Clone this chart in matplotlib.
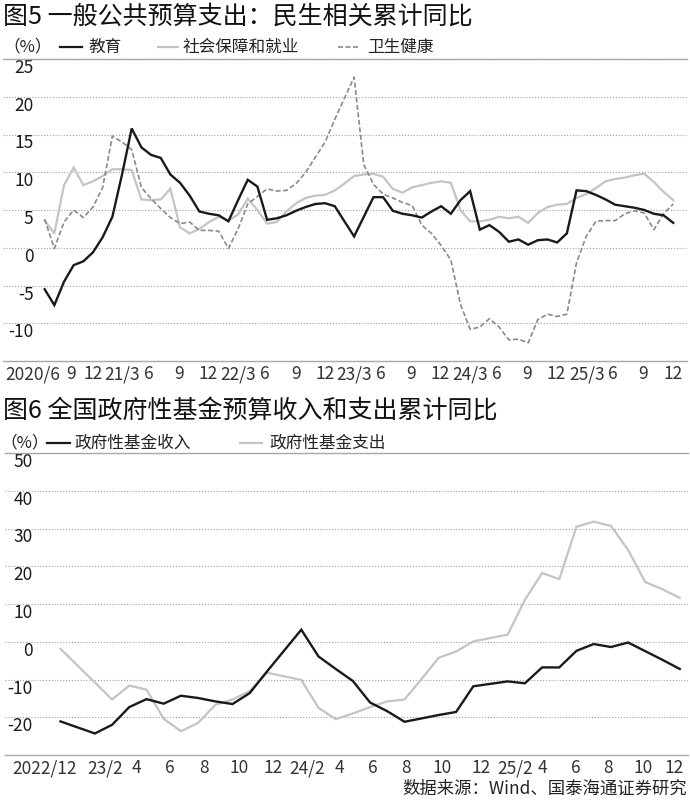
import matplotlib
matplotlib.use("Agg")
import matplotlib.pyplot as plt
import matplotlib.transforms as mtransforms
from matplotlib.lines import Line2D
import pandas as pd

plt.rcParams['font.family'] = ['Noto Sans CJK SC', 'DejaVu Sans']

# ---- 图5 数据：2020/7 - 2025/12 累计同比(%) ----
top_months = pd.period_range('2020-07', '2025-12', freq='M')
edu = [-5.5, -7.6, -4.5, -2.3, -1.8, -0.6, 1.4, 4.1, 9.7, 15.8, 13.3, 12.3,
       11.9, 9.7, 8.6, 6.9, 4.8, 4.5, 4.3, 3.5, 6.3, 9.0, 8.1, 3.7,
       3.9, 4.3, 4.9, 5.4, 5.8, 5.9, 5.5, 3.5, 1.5, 4.1, 6.7, 6.7,
       4.9, 4.5, 4.3, 4.0, 4.8, 5.5, 4.5, 6.3, 7.5, 2.4, 3.0, 2.1,
       0.8, 1.1, 0.4, 1.0, 1.1, 0.7, 1.9, 7.6, 7.5, 7.0, 6.4, 5.7,
       5.5, 5.3, 5.0, 4.5, 4.3, 3.3]
social = [3.6, 1.9, 8.3, 10.6, 8.3, 8.8, 9.5, 10.4, 10.4, 10.3, 6.4, 6.3,
          6.4, 7.8, 2.7, 1.9, 2.5, 3.4, 4.1, 3.6, 4.4, 6.5, 5.0, 3.2,
          3.4, 4.8, 5.9, 6.6, 6.9, 7.0, 7.6, 8.5, 9.5, 9.7, 9.8, 9.4,
          7.8, 7.3, 8.0, 8.3, 8.6, 8.8, 8.6, 5.0, 3.5, 3.5, 3.7, 4.1,
          3.9, 4.1, 3.3, 4.6, 5.4, 5.7, 5.8, 6.6, 7.1, 7.9, 8.8, 9.1,
          9.3, 9.6, 9.8, 8.7, 7.4, 6.3]
health = [3.8, -0.1, 3.4, 5.0, 4.0, 5.4, 8.0, 14.8, 14.0, 13.0, 8.0, 6.5,
          5.2, 4.0, 3.2, 3.4, 2.3, 2.3, 2.2, -0.1, 2.5, 5.8, 6.8, 7.8,
          7.5, 7.6, 8.5, 10.0, 12.0, 14.0, 17.0, 19.8, 22.6, 11.0, 8.4, 7.1,
          6.6, 6.0, 5.6, 3.0, 1.9, 0.3, -1.6, -7.5, -10.8, -10.5, -9.4, -10.5,
          -12.2, -12.1, -12.6, -9.5, -8.8, -9.1, -8.8, -2.0, 1.5, 3.5, 3.6, 3.6,
          4.5, 4.9, 4.6, 2.4, 4.5, 5.8]

# ---- 图6 数据：2022/12 - 2025/12（无1月）----
bot_months = [p for p in pd.period_range('2022-12', '2025-12', freq='M') if p.month != 1]
fund_income = [-21.1,
               -24.3, -22.0, -17.3, -15.2, -16.4, -14.3, -14.9, -15.8, -16.5, -13.6, -7.9,
               3.2, -3.9, -7.2, -10.4, -16.1, -18.4, -21.2, -20.3, -19.4, -18.6, -11.8,
               -10.5, -11.0, -6.8, -6.8, -2.4, -0.6, -1.4, -0.2, -2.5, -4.8, -7.2]
fund_expend = [-1.9,
               -10.8, -15.3, -11.6, -12.7, -20.4, -23.7, -21.5, -16.7, -15.3, -13.1, -8.2,
               -10.1, -17.5, -20.5, -19.0, -17.3, -15.8, -15.3, -9.8, -4.2, -2.6, 0.1,
               1.9, 11.1, 18.2, 16.6, 30.5, 31.8, 30.7, 24.3, 15.8, 13.9, 11.6]

BLACK = '#1a1a1a'
LIGHT = '#c4c4c4'
DASH = '#8a8a8a'
GRID = '#a0a0a0'
W, H = 690, 800


def month_idx(periods, start):
    s = pd.Period(start, freq='M')
    return [(p - s).n for p in periods]


def style_axes(ax, ylim, yticks, ylabel_pad):
    ax.set_ylim(*ylim)
    ax.set_yticks(yticks)
    ax.set_yticklabels([str(v) for v in yticks])
    for s in ['left', 'right']:
        ax.spines[s].set_visible(False)
    for s in ['top', 'bottom']:
        ax.spines[s].set_color('#a8a8a8')
        ax.spines[s].set_linewidth(1.0)
    ax.yaxis.grid(True, linestyle=(0, (1, 1.6)), color=GRID, linewidth=0.8)
    ax.set_axisbelow(True)
    ax.tick_params(axis='y', length=0, pad=ylabel_pad, labelsize=12.5, colors='#1a1a1a')
    ax.tick_params(axis='x', length=0, pad=3, labelsize=12.5, colors='#333333')
    for lb in ax.get_yticklabels():
        lb.set_horizontalalignment('right')
        lb.set_verticalalignment('top')


def nudge(ax, shifts):
    # 手工微调x轴标签位置（像素）
    for lb, dx in zip(ax.get_xticklabels(), shifts):
        if dx:
            lb.set_transform(lb.get_transform() +
                             mtransforms.ScaledTranslation(dx / 100, 0, fig.dpi_scale_trans))


fig = plt.figure(figsize=(W / 100, H / 100), dpi=100)

# ================= 图5 =================
ax1 = fig.add_axes([3 / W, 1 - 361 / H, 684 / W, (361 - 59) / H])
xm = month_idx(top_months, '2020-06')
ax1.plot(xm, social, color=LIGHT, lw=1.6, solid_joinstyle='miter')
ax1.plot(xm, health, color=DASH, lw=1.2, linestyle=(0, (3, 1.5)))
ax1.plot(xm, edu, color=BLACK, lw=1.7, solid_joinstyle='miter')
ax1.set_xlim((3 - 35) / 9.67, (687 - 35) / 9.67)
style_axes(ax1, (-15, 25), list(range(-10, 26, 5)), -22)

ticks1 = list(range(0, 67, 3))
labels1 = []
for m in ticks1:
    p = pd.Period('2020-06', freq='M') + m
    if m == 0:
        labels1.append('2020/6')
    elif p.month == 3:
        labels1.append(f'{p.year % 100}/3')
    else:
        labels1.append(str(p.month))
ax1.set_xticks(ticks1)
ax1.set_xticklabels(labels1)
nudge(ax1, [-2, 7, 0, 0, -2, -1, -1, 0, -2, 0, 0, 0, -2, -1, -1, 0, -2, -1, -1, 1, -2, -1, 0])

# ================= 图6 =================
ax2 = fig.add_axes([5 / W, 1 - 755 / H, 683 / W, (755 - 453) / H])
xn = month_idx(bot_months, '2022-12')
ax2.plot(xn, fund_expend, color=LIGHT, lw=1.6, solid_joinstyle='miter')
ax2.plot(xn, fund_income, color=BLACK, lw=1.7, solid_joinstyle='miter')
ax2.set_xlim((5 - 60.5) / 17.2, (688 - 60.5) / 17.2)
style_axes(ax2, (-30, 50), list(range(-20, 51, 10)), -20)

ticks2 = list(range(0, 37, 2))
labels2 = []
for n in ticks2:
    p = pd.Period('2022-12', freq='M') + n
    if n == 0:
        labels2.append('2022/12')
    elif p.month == 2:
        labels2.append(f'{p.year % 100}/2')
    else:
        labels2.append(str(p.month))
ax2.set_xticks(ticks2)
ax2.set_xticklabels(labels2)
nudge(ax2, [-16, 10, 7, 6, 6, 7, 6, 6, 4, 3, 2, 3, 8, 7, 0, -1, -3, -2, -6])

# ================= 标题与图例 =================
def fx(px):
    return px / W


def fy(py):
    return 1 - py / H


fig.text(fx(3), fy(17), '图5 一般公共预算支出：民生相关累计同比', fontsize=18,
         fontweight='medium', va='center', ha='left', color='#111111')
fig.text(fx(3), fy(411), '图6 全国政府性基金预算收入和支出累计同比', fontsize=18,
         fontweight='medium', va='center', ha='left', color='#111111')

leg_kw = dict(fontsize=12, va='center', ha='left', color='#222222')
# 图5 图例
fig.text(fx(3), fy(47), '（%）', **leg_kw)
fig.add_artist(Line2D([fx(60), fx(82)], [fy(47), fy(47)], color=BLACK, lw=1.6))
fig.text(fx(88), fy(47), '教育', **leg_kw)
fig.add_artist(Line2D([fx(158), fx(178)], [fy(47), fy(47)], color=LIGHT, lw=1.6))
fig.text(fx(183), fy(47), '社会保障和就业', **leg_kw)
fig.add_artist(Line2D([fx(338), fx(360)], [fy(47), fy(47)], color=DASH, lw=1.2,
                      linestyle=(0, (3, 1.5))))
fig.text(fx(367), fy(47), '卫生健康', **leg_kw)
# 图6 图例
fig.text(fx(0), fy(443), '（%）', **leg_kw)
fig.add_artist(Line2D([fx(47), fx(70)], [fy(443), fy(443)], color=BLACK, lw=1.6))
fig.text(fx(74), fy(443), '政府性基金收入', **leg_kw)
fig.add_artist(Line2D([fx(240), fx(262)], [fy(443), fy(443)], color=LIGHT, lw=1.6))
fig.text(fx(269), fy(443), '政府性基金支出', **leg_kw)

fig.text(fx(687), fy(789), '数据来源：Wind、国泰海通证券研究', fontsize=12.5,
         va='center', ha='right', color='#222222')

fig.savefig('out.png', dpi=100)
